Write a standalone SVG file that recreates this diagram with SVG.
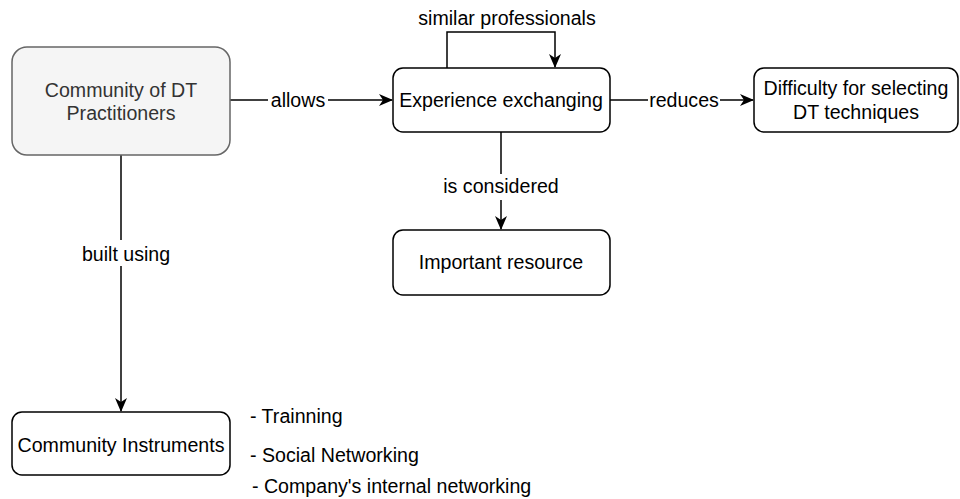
<svg xmlns="http://www.w3.org/2000/svg" width="960" height="499" viewBox="0 0 960 499">
<defs>
<marker id="ab" viewBox="0 0 14 12" refX="13" refY="6" markerWidth="14" markerHeight="12" markerUnits="userSpaceOnUse" orient="auto">
<path d="M0,0 L14,6 L0,12 L4,6 Z" fill="#000"/>
</marker>
</defs>
<style>
text{font-family:"Liberation Sans",Arial,sans-serif;font-size:19.6px;text-anchor:middle;fill:#000}
.box{fill:#fff;stroke:#000;stroke-width:1.5}
.gray{fill:#f5f5f5;stroke:#666;stroke-width:1.5}
.edge{fill:none;stroke:#000;stroke-width:1.5}
.lbl{fill:#fff}
.left{text-anchor:start}
</style>
<rect width="960" height="499" fill="#fff"/>
<g id="connectors">
<path class="edge" d="M230,100 L392,100" marker-end="url(#ab)"/>
<rect class="lbl" x="268" y="89" width="60" height="22"/>
<text x="298" y="107">allows</text>
<path class="edge" d="M610,100 L753,100" marker-end="url(#ab)"/>
<rect class="lbl" x="648" y="89" width="72" height="22"/>
<text x="684" y="107">reduces</text>
<path class="edge" d="M447,68 L447,32 L555,32 L555,67" marker-end="url(#ab)"/>
<text x="507" y="25">similar professionals</text>
<path class="edge" d="M501,132 L501,229" marker-end="url(#ab)"/>
<rect class="lbl" x="436" y="174" width="130" height="26"/>
<text x="501" y="193">is considered</text>
<path class="edge" d="M121,155 L121,411" marker-end="url(#ab)"/>
<rect class="lbl" x="80" y="240" width="94" height="26"/>
<text x="126" y="261">built using</text>
</g>
<g id="community">
<rect class="gray" x="12" y="47" width="218" height="108" rx="15"/>
<text x="121" y="97" style="fill:#333">Community of DT</text>
<text x="121" y="120" style="fill:#333">Practitioners</text>
</g>
<g id="experience">
<rect class="box" x="393" y="68" width="217" height="64" rx="10"/>
<text x="501" y="107">Experience exchanging</text>
</g>
<g id="difficulty">
<rect class="box" x="754" y="68" width="204" height="64" rx="10"/>
<text x="856" y="95">Difficulty for selecting</text>
<text x="856" y="119">DT techniques</text>
</g>
<g id="important">
<rect class="box" x="393" y="230" width="217" height="65" rx="10"/>
<text x="501" y="269">Important resource</text>
</g>
<g id="instruments">
<rect class="box" x="12" y="412" width="218" height="63" rx="10"/>
<text x="121" y="452">Community Instruments</text>
</g>
<g id="list">
<text class="left" x="250" y="423">- Trainning</text>
<text class="left" x="250" y="462">- Social Networking</text>
<text class="left" x="252" y="493">- Company's internal networking</text>
</g>
</svg>
